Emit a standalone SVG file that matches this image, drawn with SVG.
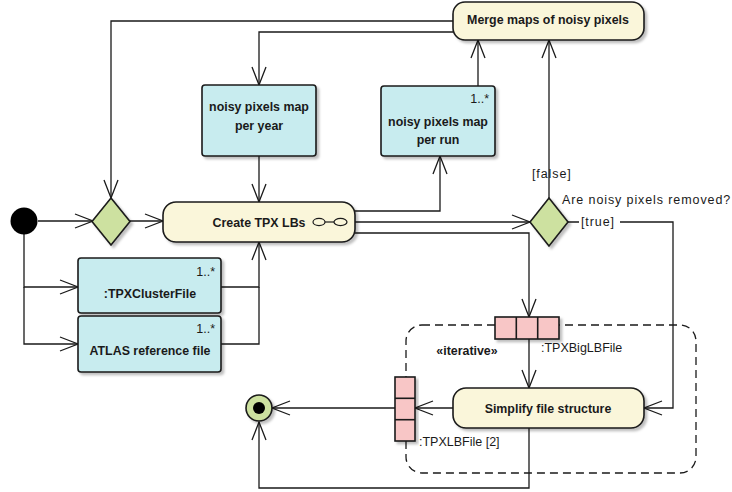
<svg xmlns="http://www.w3.org/2000/svg" width="732" height="492" viewBox="0 0 732 492">
  <style>
    .action { fill: #faf6da; stroke: #1a1a1a; stroke-width: 1.6; }
    .data { fill: #c8ecef; stroke: #1a1a1a; stroke-width: 1.6; }
    .decision { fill: #cde1a0; stroke: #1a1a1a; stroke-width: 1.6; }
    .pin { fill: #f8c6c6; stroke: #1a1a1a; stroke-width: 1.6; }
    .edge { fill: none; stroke: #1a1a1a; stroke-width: 1.3; }
    .arrow { marker-end: url(#open); }
    .b { font-family: "Liberation Sans", Arial, sans-serif; font-weight: bold; font-size: 12.4px; fill: #1a1a1a; text-anchor: middle; }
    .n { font-family: "Liberation Sans", Arial, sans-serif; font-size: 12.5px; fill: #1a1a1a; }
    .g { letter-spacing: 0.9px; }
  </style>
  <defs>
    <marker id="open" markerUnits="userSpaceOnUse" markerWidth="20" markerHeight="16" refX="18" refY="7" orient="auto" overflow="visible">
      <path d="M0,0 L18,7 L0,14" fill="none" stroke="#1a1a1a" stroke-width="1.3"/>
    </marker>
    <filter id="shadow" x="-10%" y="-10%" width="130%" height="140%">
      <feDropShadow dx="2.5" dy="2.5" stdDeviation="1.2" flood-color="#000" flood-opacity="0.25"/>
    </filter>
  </defs>

  <rect width="732" height="492" fill="#ffffff"/>

  <!-- iterative expansion region -->
  <g id="region">
    <rect x="406" y="325" width="290" height="148" rx="16" fill="none" stroke="#1a1a1a" stroke-width="1.3" stroke-dasharray="8,5"/>
    <text class="b" x="467" y="355">«iterative»</text>
  </g>

  <!-- connectors -->
  <g id="connectors">
    <path class="edge arrow" d="M38,221 H93"/>
    <path class="edge arrow" d="M129,221 H163"/>
    <path class="edge arrow" d="M24,234 V287 H78"/>
    <path class="edge arrow" d="M24,287 V344 H78"/>
    <path class="edge arrow" d="M221,287 H259 V242"/>
    <path class="edge" d="M221,344 H259 V287"/>
    <path class="edge arrow" d="M259,156 V202"/>
    <path class="edge arrow" d="M453,21 H111 V198"/>
    <path class="edge arrow" d="M453,32 H259 V85"/>
    <path class="edge arrow" d="M355,211 H440 V156"/>
    <path class="edge arrow" d="M478,86 V40"/>
    <path class="edge arrow" d="M355,222 H530"/>
    <path class="edge arrow" d="M355,233 H529 V317"/>
    <path class="edge arrow" d="M549,198 V40"/>
    <path class="edge arrow" d="M568,222 H673 V408 H644"/>
    <path class="edge arrow" d="M529,339 V388"/>
    <path class="edge arrow" d="M453,408 H415"/>
    <path class="edge arrow" d="M395,408 H272"/>
    <path class="edge arrow" d="M529,428 V488 H259 V422"/>
    <!-- guard labels -->
    <text class="n g" x="532" y="178">[false]</text>
    <text class="n g" x="562" y="204">Are noisy pixels removed?</text>
    <rect x="579" y="214" width="41" height="15" fill="#ffffff"/>
    <text class="n g" x="581" y="226">[true]</text>
  </g>

  <!-- start -->
  <g id="initial">
    <circle cx="24" cy="221" r="13.5" fill="#000000"/>
  </g>

  <!-- merge decision -->
  <g id="merge-decision">
    <polygon class="decision" points="111,198 130,221.5 111,245 92,221.5" filter="url(#shadow)"/>
  </g>

  <g id="create-tpx-lbs">
    <rect class="action" x="163" y="202" width="192" height="40" rx="13" filter="url(#shadow)"/>
    <text class="b" x="259" y="226.5">Create TPX LBs</text>
    <ellipse cx="319" cy="222" rx="6" ry="3.6" fill="none" stroke="#1a1a1a" stroke-width="1.2"/>
    <ellipse cx="340.5" cy="222" rx="6.5" ry="3.6" fill="none" stroke="#1a1a1a" stroke-width="1.2"/>
    <line x1="325" y1="222" x2="334" y2="222" stroke="#1a1a1a" stroke-width="1.2"/>
  </g>

  <g id="merge-maps">
    <rect class="action" x="453" y="2" width="191" height="38" rx="12" filter="url(#shadow)"/>
    <text class="b" x="548" y="24">Merge maps of noisy pixels</text>
  </g>

  <g id="noisy-map-year">
    <rect class="data" x="202" y="85" width="114" height="71" rx="3" filter="url(#shadow)"/>
    <text class="b" x="259" y="111">noisy pixels map</text>
    <text class="b" x="259" y="130">per year</text>
  </g>

  <g id="noisy-map-run">
    <rect class="data" x="381" y="86" width="114" height="70" rx="3" filter="url(#shadow)"/>
    <text class="n" x="489" y="103" text-anchor="end">1..*</text>
    <text class="b" x="438" y="126">noisy pixels map</text>
    <text class="b" x="438" y="144">per run</text>
  </g>

  <g id="tpx-cluster-file">
    <rect class="data" x="78" y="258" width="143" height="55" rx="3" filter="url(#shadow)"/>
    <text class="n" x="215" y="276" text-anchor="end">1..*</text>
    <text class="b" x="150" y="298">:TPXClusterFile</text>
  </g>

  <g id="atlas-reference-file">
    <rect class="data" x="78" y="316" width="143" height="56" rx="3" filter="url(#shadow)"/>
    <text class="n" x="215" y="333" text-anchor="end">1..*</text>
    <text class="b" x="150" y="355">ATLAS reference file</text>
  </g>

  <g id="removed-decision">
    <polygon class="decision" points="549,198 568,222 549,246 530,222" filter="url(#shadow)"/>
  </g>

  <g id="pin-big-lb-file">
    <g filter="url(#shadow)">
      <rect class="pin" x="495" y="317" width="64" height="22"/>
    </g>
    <line x1="516.3" y1="317" x2="516.3" y2="339" stroke="#1a1a1a" stroke-width="1.6"/>
    <line x1="537.7" y1="317" x2="537.7" y2="339" stroke="#1a1a1a" stroke-width="1.6"/>
    <text class="n" x="541" y="352">:TPXBigLBFile</text>
  </g>

  <g id="simplify-file-structure">
    <rect class="action" x="453" y="388" width="191" height="40" rx="13" filter="url(#shadow)"/>
    <text class="b" x="548" y="412.5">Simplify file structure</text>
  </g>

  <g id="pin-lb-file">
    <g filter="url(#shadow)">
      <rect class="pin" x="395" y="377" width="20" height="64"/>
    </g>
    <line x1="395" y1="398.3" x2="415" y2="398.3" stroke="#1a1a1a" stroke-width="1.6"/>
    <line x1="395" y1="419.7" x2="415" y2="419.7" stroke="#1a1a1a" stroke-width="1.6"/>
    <text class="n" x="419" y="446">:TPXLBFile [2]</text>
  </g>

  <g id="final">
    <circle cx="259" cy="408" r="13" fill="#cde1a0" stroke="#1a1a1a" stroke-width="1.6" filter="url(#shadow)"/>
    <circle cx="259" cy="408" r="6" fill="#000000"/>
  </g>
</svg>
